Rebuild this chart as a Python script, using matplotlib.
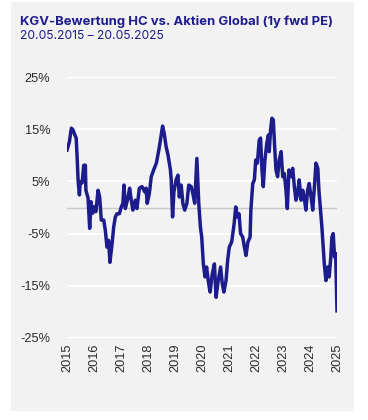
import matplotlib.pyplot as plt
from matplotlib.patches import Rectangle

# years since 20.05.2015
t = [0.00, 0.09, 0.16, 0.22, 0.29, 0.34, 0.38, 0.41, 0.46, 0.49, 0.56,
     0.62, 0.68, 0.70, 0.78, 0.84, 0.89, 0.95, 1.01, 1.07, 1.15,
     1.21, 1.27, 1.36, 1.42, 1.48, 1.54, 1.59, 1.67, 1.73, 1.79,
     1.85, 1.94, 2.01, 2.07, 2.11, 2.16, 2.25, 2.32, 2.38, 2.44,
     2.53, 2.59, 2.68, 2.78, 2.88, 2.93, 2.97, 3.05, 3.12, 3.21,
     3.31, 3.40, 3.46, 3.54, 3.60, 3.67, 3.74, 3.83, 3.86, 3.91,
     3.96, 4.04, 4.11, 4.16, 4.23, 4.29, 4.36, 4.44, 4.51, 4.60,
     4.66, 4.73, 4.81, 4.88, 4.94, 4.99, 5.05, 5.11, 5.17, 5.23,
     5.30, 5.38, 5.46, 5.52, 5.60, 5.69, 5.75, 5.81, 5.89, 5.95,
     6.01, 6.10, 6.19, 6.25, 6.31, 6.37, 6.43, 6.51, 6.57, 6.63,
     6.70, 6.78, 6.81, 6.88, 6.94, 6.99, 7.05, 7.12, 7.17, 7.22,
     7.27, 7.33, 7.40, 7.46, 7.49, 7.54, 7.59, 7.64, 7.69, 7.74,
     7.80, 7.86, 7.93, 7.99, 8.05, 8.11, 8.16, 8.22, 8.30, 8.36,
     8.42, 8.48, 8.54, 8.60, 8.67, 8.73, 8.79, 8.85, 8.91, 8.97,
     9.04, 9.10, 9.16, 9.22, 9.29, 9.33, 9.40, 9.44, 9.49, 9.53,
     9.59, 9.66, 9.71, 9.77, 9.81, 9.86, 9.91, 9.95, 10.00]
# KGV premium/discount HC vs. Aktien Global, %
kgv = [11.0, 12.6, 15.2, 14.9, 13.9, 13.3, 9.1, 5.3, 2.4, 4.9, 4.7,
       8.1, 8.1, 3.3, 1.8, -4.0, 1.1, -1.1, 0.1, -0.8, 3.3,
       2.0, -2.4, -2.4, -4.4, -7.6, -6.3, -10.5, -6.9, -3.7, -1.8,
       -1.2, -1.2, 0.1, 0.8, 4.3, -0.2, 1.7, 3.7, 1.4, -0.5,
       1.4, -0.2, 3.7, 4.0, 3.0, 3.7, 0.8, 2.7, 5.9, 7.2,
       8.5, 11.0, 12.9, 15.6, 14.2, 11.7, 10.1, 7.2, 5.3, -1.8,
       3.0, 5.3, 6.2, 2.0, 4.3, 0.8, -0.5, 0.8, 4.3, 4.0,
       2.7, 0.8, 9.4, 0.8, -3.7, -5.7, -10.8, -13.3, -11.4, -14.0,
       -16.2, -12.7, -10.8, -17.2, -14.0, -11.4, -14.6, -16.2, -14.0, -10.1,
       -7.6, -6.6, -3.1, 0.1, -1.8, -1.2, -5.0, -5.7, -7.6, -9.2,
       -6.6, -5.7, -0.5, 4.6, 5.3, 9.1, 8.5, 12.9, 13.3, 7.2,
       4.0, 9.1, 12.3, 13.9, 10.7, 14.9, 17.1, 16.8, 11.7, 7.2,
       5.9, 9.1, 10.7, 5.9, 6.5, 3.3, -0.2, 7.2, 5.9, 7.5,
       4.0, 1.4, 2.7, 5.3, 1.4, 3.3, 1.7, -0.5, 3.3, 4.6,
       2.0, -0.5, 3.7, 8.5, 7.5, 3.3, -1.2, -3.7, -7.6, -10.8,
       -14.0, -11.4, -13.3, -9.5, -5.7, -5.0, -9.5, -8.8, -19.8]

year_labels = [str(y) for y in range(2015, 2026)]
y_ticks = [25, 15, 5, -5, -15, -25]

navy = '#1c1c8c'
bg = '#f2f2f2'

fig = plt.figure(figsize=(3.68, 4.2), dpi=100)
fig.patch.set_facecolor('white')
fig.patches.append(Rectangle((11 / 368, 1 - 411 / 420), 343 / 368, 409 / 420,
                             transform=fig.transFigure, facecolor=bg,
                             edgecolor='none', zorder=-5))

fig.text(20 / 368, 1 - 25 / 420, 'KGV-Bewertung HC vs. Aktien Global (1y fwd PE)',
         fontsize=9.4, fontweight='bold', color=navy, family='Inter', va='baseline')
fig.text(20 / 368, 1 - 39 / 420, '20.05.2015 \u2013 20.05.2025',
         fontsize=8.7, color=navy, family='Inter', va='baseline')

ax = fig.add_axes([67 / 368, 82 / 420, 270 / 368, 261 / 420])
ax.set_facecolor(bg)
ax.set_xlim(0, 10)
ax.set_ylim(-25, 25)
for s in ax.spines.values():
    s.set_visible(False)

for v in y_ticks:
    ax.axhline(v, color='white', lw=1.5, zorder=1)
ax.axhline(0, color='#c8c8c8', lw=1.0, zorder=1)

ax.plot(t, kgv, color=navy, lw=2.5, zorder=3, solid_joinstyle='round')

ax.set_yticks(y_ticks)
ax.set_yticklabels([f'{v}%' for v in y_ticks], fontsize=9.2,
                   family='Liberation Sans', color='#2a2a2a')
ax.set_xticks(range(11))
ax.set_xticklabels(year_labels, rotation=90, fontsize=9.2,
                   family='Liberation Sans', color='#2a2a2a')
ax.tick_params(length=0, axis='y', pad=12)
ax.tick_params(length=0, axis='x', pad=4)

fig.savefig('out.png', dpi=100)
